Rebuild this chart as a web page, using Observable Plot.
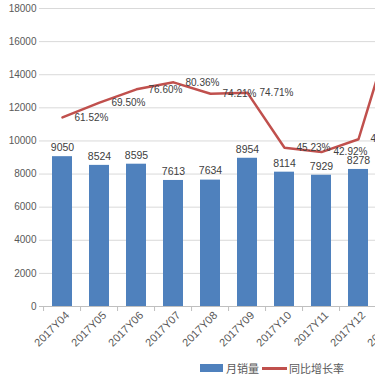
<!DOCTYPE html>
<html><head><meta charset="utf-8">
<script src="https://cdn.jsdelivr.net/npm/d3@7"></script>
<script src="https://cdn.jsdelivr.net/npm/@observablehq/plot@0.6"></script>
<style>
body{margin:0;background:#fff;}
#wrap{position:relative;width:375px;height:379px;overflow:hidden;background:#fff;}
#chart{position:absolute;left:0;top:0;width:420px;}
#chart svg{max-width:none !important;width:420px !important;height:352px !important;}
#legend{position:absolute;left:200px;top:359px;height:18px;display:flex;align-items:center;font-family:"Noto Sans CJK SC","Liberation Sans",sans-serif;font-size:11px;color:#595959;white-space:nowrap;}
#legend .sw{display:inline-block;width:23px;height:8px;background:#4f81bd;margin-right:3px;}
#legend .ln{display:inline-block;width:25px;height:3px;background:#c0504d;margin-left:3px;margin-right:2px;}
</style></head><body>
<div id="wrap"><div id="chart"></div>
<div id="legend"><span class="sw"></span><span>月销量</span><span class="ln"></span><span>同比增长率</span></div>
</div>
<script>
const months = ["2017Y04","2017Y05","2017Y06","2017Y07","2017Y08","2017Y09","2017Y10","2017Y11","2017Y12","2018Y01"];
const sales = [9050, 8524, 8595, 7613, 7634, 8954, 8114, 7929, 8278, null];
const growth = [61.52, 69.50, 76.60, 80.36, 74.21, 74.71, 45.23, 42.92, 49.80, 115.00];
const yTicks = [0, 2000, 4000, 6000, 8000, 10000, 12000, 14000, 16000, 18000];
const salesDomain = [0, 18000];
const rateDomain = [-40, 120]; // secondary axis (hidden)

const data = months.map((m, i) => ({month: m, sales: sales[i], growth: growth[i]}));
const barData = data.filter(d => d.sales != null);
const toPrimary = r => (r - rateDomain[0]) / (rateDomain[1] - rateDomain[0]) * (salesDomain[1] - salesDomain[0]) + salesDomain[0];

const W = 420, ML = 39, MR = 2;
const step = (W - ML - MR) / months.length;
const font = "'Liberation Sans', 'Noto Sans CJK SC', sans-serif";

const chart = Plot.plot({
  width: W, height: 352,
  marginLeft: ML, marginRight: MR, marginTop: 8, marginBottom: 46,
  style: {fontFamily: font, background: "#fff", overflow: "visible", maxWidth: "none"},
  x: {type: "band", domain: months, paddingInner: 0.446, paddingOuter: 0.223, label: null},
  y: {domain: salesDomain, label: null},
  marks: [
    Plot.gridY(yTicks, {stroke: "#d9d9d9", strokeOpacity: 1}),
    Plot.barY(barData, {x: "month", y: "sales", fill: "#4f81bd"}),
    Plot.ruleY([0], {stroke: "#bfbfbf"}),
    Plot.axisX({tickSize: 5, tickFormat: () => "", dx: -step / 2, stroke: "#bfbfbf", strokeOpacity: 1}),
    Plot.axisX({tickSize: 0, tickRotate: -45, tickPadding: 7, dx: 5, fill: "#595959", fontSize: 11}),
    Plot.axisY({ticks: yTicks, tickSize: 0, tickPadding: 3, tickFormat: d => String(d), fill: "#595959", fontSize: 10}),
    Plot.text(barData, {x: "month", y: "sales", text: d => String(d.sales), dy: -9, fill: "#404040", fontSize: 10.5}),
    Plot.lineY(data, {x: "month", y: d => toPrimary(d.growth), stroke: "#c0504d", strokeWidth: 2.5, strokeLinejoin: "round"}),
    Plot.text(data, {x: "month", y: d => toPrimary(d.growth), text: d => d.growth.toFixed(2) + "%", textAnchor: "start", dx: 12, fill: "#404040", fontSize: 10})
  ]
});
document.getElementById("chart").appendChild(chart);
</script>
</body></html>
